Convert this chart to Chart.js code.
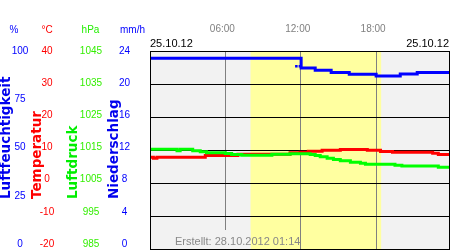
<!DOCTYPE html>
<html><head><meta charset="utf-8">
<script src="https://cdn.jsdelivr.net/npm/chart.js@4/dist/chart.umd.min.js"></script>
<style>html,body{margin:0;padding:0;background:#fff;}#wrap{width:450px;height:250px;}</style>
</head><body><div id="wrap"><canvas id="c" width="450" height="250"></canvas></div>
<script>
// ---- data ----
const timeTicks = [6, 12, 18];
const timeTickLabels = ['06:00', '12:00', '18:00'];
const dateLabel = '25.10.12';
const createdLabel = 'Erstellt: 28.10.2012 01:14';
const daylight = [8.0, 18.4];
const timeRange = [0, 23.8];

const humTicks = [0, 25, 50, 75, 100];
const tempTicks = [-20, -10, 0, 10, 20, 30, 40];
const presTicks = [985, 995, 1005, 1015, 1025, 1035, 1045];
const rainTicks = [0, 4, 8, 12, 16, 20, 24];
const unitLabels = ['%', '°C', 'hPa', 'mm/h'];
const axisTitles = ['Luftfeuchtigkeit', 'Temperatur', 'Luftdruck', 'Niederschlag'];

const humTimes  = [0, 12.03, 13.15, 14.42, 15.86, 18.0, 19.92, 21.27, 23.8];
const humValues = [96.3, 91.4, 90.3, 89.2, 88.2, 87.4, 88.4, 89.2, 89.2];
const humDotTimes  = [11.65, 11.93];
const humDotValues = [92.3, 92.3];

const tempTimes  = [0, 0.27, 0.55, 4.4, 7.0, 11.15, 11.95, 12.6, 13.7, 15.15, 17.3, 18.35, 19.3, 22.5, 22.95, 23.8];
const tempValues = [7.8, 7.5, 7.8, 8.3, 8.7, 9.15, 9.35, 9.65, 9.9, 10.15, 9.9, 9.55, 9.3, 9.05, 8.6, 8.6];

const presTimes  = [0, 2.15, 2.4, 3.4, 4.0, 4.5, 6.0, 6.5, 7.3, 9.7, 11.15, 12.75, 13.15, 13.55, 14.1, 14.6, 15.15, 15.95, 16.75, 17.15, 19.5, 20.05, 22.95, 23.8];
const presValues = [1015.2, 1014.8, 1015.2, 1014.8, 1014.45, 1014.15, 1013.95, 1013.65, 1013.4, 1013.7, 1013.9, 1013.65, 1013.35, 1012.95, 1012.5, 1012.1, 1011.75, 1011.3, 1011.0, 1010.7, 1010.4, 1010.15, 1009.75, 1009.75];

// ---- helpers ----
const pts = (xs, ys) => xs.map((x, i) => ({x: x, y: ys[i]}));
const FONT = "'Liberation Sans', Arial, sans-serif";
const BLUE = '#0000ff', RED = '#ff0000', GREEN = '#00ff00';
const noPad = s => { s.paddingTop = 0; s.paddingBottom = 0; s.paddingLeft = 0; s.paddingRight = 0; };

function labelAxis(ticks, color, weight, width, pad, min) {
  return {
    type: 'linear', position: 'left', weight: weight,
    min: min, max: ticks[ticks.length - 1],
    afterBuildTicks: s => { s.ticks = ticks.map(v => ({value: v})); },
    afterFit: s => { s.width = width; noPad(s); },
    ticks: {color: color, font: {family: FONT, size: 10}, crossAlign: 'center', padding: pad, autoSkip: false,
            callback: v => String(v)},
    grid: {display: false, drawTicks: false},
    border: {display: false}
  };
}

const bgPlugin = {
  id: 'bg',
  beforeDraw(chart) {
    const {ctx, chartArea: a, scales} = chart;
    ctx.save();
    ctx.fillStyle = '#f2f2f2';
    ctx.fillRect(a.left, a.top, a.right - a.left, a.bottom - a.top);
    const x0 = scales.x.getPixelForValue(daylight[0]);
    const x1 = scales.x.getPixelForValue(daylight[1]);
    ctx.fillStyle = '#ffffa0';
    ctx.fillRect(x0, a.top, x1 - x0, a.bottom - a.top);
    ctx.restore();
  },
  beforeDatasetsDraw(chart) {
    const {ctx, chartArea: a, scales} = chart;
    const x0 = scales.x.getPixelForValue(daylight[0]);
    ctx.save();
    ctx.fillStyle = '#f2f2f2';
    ctx.fillRect(172, 230, x0 - 172, Math.max(0, a.bottom - 230));
    ctx.fillStyle = '#888888';
    ctx.font = '11px ' + FONT;
    ctx.textAlign = 'left';
    ctx.textBaseline = 'middle';
    ctx.fillText(createdLabel, 175, 241.5);
    ctx.restore();
  },
  afterDraw(chart) {
    const {ctx, chartArea: a} = chart;
    ctx.save();
    ctx.strokeStyle = '#000';
    ctx.lineWidth = 1;
    ctx.strokeRect(a.left + 0.5, a.top + 0.5, a.right - a.left, a.bottom - a.top);
    // dates
    ctx.fillStyle = '#000';
    ctx.font = '11px ' + FONT;
    ctx.textBaseline = 'middle';
    ctx.textAlign = 'left';
    ctx.fillText(dateLabel, a.left, 43.5);
    ctx.textAlign = 'right';
    ctx.fillText(dateLabel, a.right, 43.5);
    // unit headers
    const ux = [14, 47, 90.5, 132.5];
    const uc = [BLUE, RED, '#22ee00', BLUE];
    ctx.font = '10px ' + FONT;
    ctx.textAlign = 'center';
    unitLabels.forEach((t, i) => { ctx.fillStyle = uc[i]; ctx.fillText(t, ux[i], 30.5); });
    // rotated titles
    const tx = [6, 37, 73, 114];
    const tc = ['#0000ee', RED, '#00ee00', '#0000ee'];
    ctx.font = "bold 13.5px 'DejaVu Sans', sans-serif";
    axisTitles.forEach((t, i) => {
      ctx.save();
      ctx.translate(tx[i], 199);
      ctx.rotate(-Math.PI / 2);
      ctx.textAlign = 'left';
      ctx.textBaseline = 'middle';
      ctx.fillStyle = tc[i];
      ctx.fillText(t, 0, 0);
      ctx.restore();
    });
    ctx.restore();
  }
};

// Chart.js 'before' = horizontal first: each value holds from its time until the next point
const lineDs = (label, xs, ys, axis, color, order) => ({
  label: label, data: pts(xs, ys), yAxisID: axis, borderColor: color, backgroundColor: color,
  borderWidth: 3, stepped: 'before', pointRadius: 0, fill: false, order: order,
  borderCapStyle: 'butt', borderJoinStyle: 'miter'
});

new Chart(document.getElementById('c'), {
  type: 'line',
  data: {
    datasets: [
      lineDs('Luftdruck', presTimes, presValues, 'yP', GREEN, 0),
      lineDs('Temperatur', tempTimes, tempValues, 'yT', RED, 1),
      lineDs('Luftfeuchtigkeit', humTimes, humValues, 'yH', BLUE, 2),
      {label: 'Luftfeuchtigkeit (Einzelwerte)', data: pts(humDotTimes, humDotValues), yAxisID: 'yH',
       showLine: false, pointStyle: 'rect', pointRadius: 1.8, pointBorderWidth: 0,
       backgroundColor: BLUE, borderColor: BLUE, order: 2}
    ]
  },
  options: {
    responsive: false, maintainAspectRatio: false, animation: false, devicePixelRatio: 1,
    layout: {autoPadding: false, padding: {top: 0, right: 1, bottom: 1, left: 0}},
    plugins: {legend: {display: false}, tooltip: {enabled: false}},
    scales: {
      x: {
        type: 'linear', position: 'top', min: timeRange[0], max: timeRange[1],
        afterBuildTicks: s => { s.ticks = timeTicks.map(v => ({value: v})); },
        afterFit: s => { s.height = 51; noPad(s); },
        ticks: {
          color: '#808080', font: {family: FONT, size: 10}, padding: 15.8, labelOffset: -3,
          autoSkip: false, maxRotation: 0,
          callback: v => timeTickLabels[timeTicks.indexOf(v)]
        },
        grid: {color: '#808080', lineWidth: 1, drawTicks: false},
        border: {display: false}
      },
      yT: {
        type: 'linear', position: 'left', weight: 0, min: tempTicks[0], max: tempTicks[tempTicks.length - 1],
        afterBuildTicks: s => { s.ticks = tempTicks.map(v => ({value: v})); },
        afterFit: s => { s.width = 0; noPad(s); },
        ticks: {display: false},
        grid: {color: '#000000', lineWidth: 1, drawTicks: false},
        border: {display: false}
      },
      yH: {type: 'linear', display: false, min: humTicks[0], max: humTicks[humTicks.length - 1]},
      yP: {type: 'linear', display: false, min: presTicks[0], max: presTicks[presTicks.length - 1]},
      labH: labelAxis(humTicks, BLUE, 4, 30, 1.65, -2.59),
      labT: labelAxis(tempTicks, RED, 3, 40, 15.8, -21.554),
      labP: labelAxis(presTicks, '#33ee00', 2, 35, 2.9, 983.446),
      labR: labelAxis(rainTicks, BLUE, 1, 45, 20, -0.622)
    }
  },
  plugins: [bgPlugin]
});
</script>
</body></html>
